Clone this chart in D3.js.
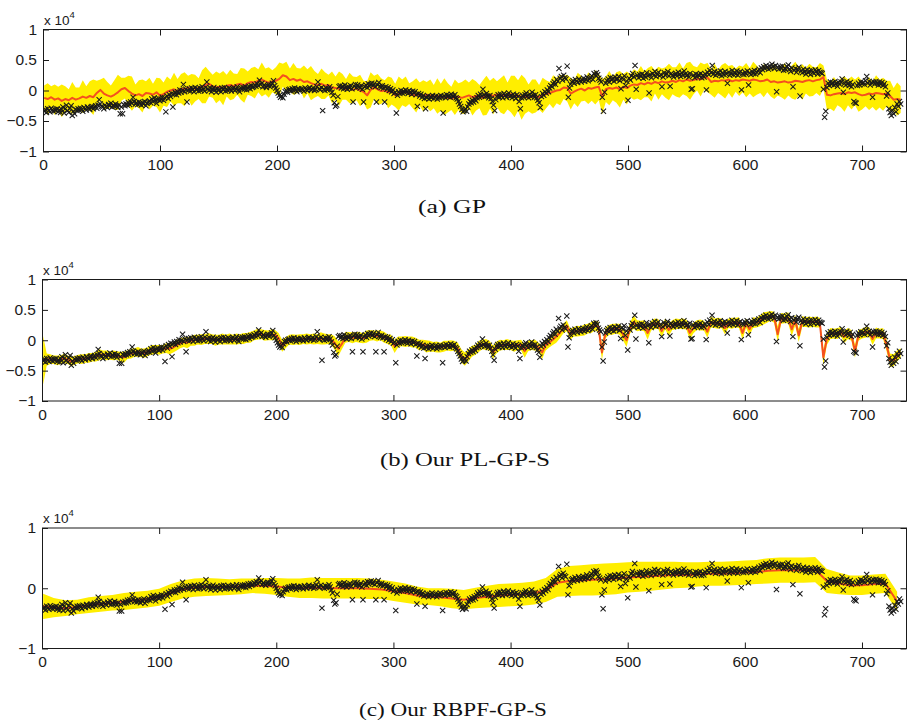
<!DOCTYPE html>
<html>
<head>
<meta charset="utf-8">
<script src="https://cdn.jsdelivr.net/npm/d3@7"></script>
<style>
body { margin: 0; background: #fff; }
svg { display: block; }
</style>
</head>
<body>
<svg id="fig" width="908" height="722"></svg>
<script>
// data (values in units of 1e4, as on the axes)

// observed values, one per day from day 1
let obs = [
    -.34,-.31,-.36,-.30,-.33,-.35,-.29,-.32,-.34,-.31,
    -.33,-.30,-.35,-.32,-.36,-.31,-.27,-.37,-.30,-.24,
    -.33,-.36,-.29,-.25,-.41,-.34,-.38,-.31,-.33,-.30,
    -.32,-.29,-.31,-.34,-.28,-.30,-.32,-.27,-.29,-.31,
    -.28,-.26,-.30,-.27,-.25,-.29,-.24,-.15,-.22,-.26,
    -.27,-.30,-.24,-.26,-.28,-.23,-.25,-.21,-.27,-.24,
    -.26,-.22,-.25,-.28,-.24,-.38,-.27,-.38,-.23,-.25,
    -.22,-.24,-.20,-.23,-.19,-.21,-.11,-.18,-.22,-.20,
    -.23,-.19,-.21,-.24,-.20,-.22,-.18,-.25,-.21,-.19,
    -.17,-.20,-.14,-.18,-.12,-.16,-.21,-.15,-.13,-.17,
    -.14,-.11,-.16,-.12,-.35,-.09,-.13,-.07,-.10,-.05,
    -.27,-.06,-.03,-.07,-.02,-.04,.01,-.03,.00,.10,
    -.02,.02,-.19,.00,.03,-.01,.04,.02,-.02,.05,
    .01,.03,-.01,.04,.00,.06,.02,-.01,.05,.14,
    .03,.00,.04,-.02,.02,.05,.01,-.03,.03,.00,
    .02,-.02,.04,.01,.05,-.01,.03,.00,.04,.02,
    -.01,.03,.05,.00,.02,.06,.01,-.02,.04,.03,
    .05,.02,.06,.01,.04,.07,.03,.08,.05,.06,
    .09,.07,.11,.08,.17,.10,.12,.06,.09,.07,
    .05,.08,.10,.06,.09,.12,.16,.08,.04,.00,
    -.04,-.08,-.11,-.09,-.12,-.06,-.02,.00,-.03,.01,
    .02,-.01,.03,.00,.04,.01,-.02,.03,.02,.00,
    .03,.01,-.01,.04,.02,.00,.03,.05,.01,.02,
    .04,.00,.02,.06,.14,.03,.01,.05,-.33,.02,
    .00,.04,.01,.03,.06,.02,-.03,-.08,-.20,-.26,
    -.24,-.10,.06,.08,.04,.07,.03,.09,.05,.02,
    .06,.04,.08,.03,-.19,.07,.10,.05,.09,.06,
    .04,.08,.02,-.19,.06,.09,.05,.11,.07,.10,
    .12,.08,.11,.06,-.19,.09,.13,.07,.05,.08,
    .04,-.19,.06,.02,.05,.00,.03,-.02,.01,-.05,
    -.03,-.37,-.08,-.02,-.05,.00,-.04,-.01,-.03,.01,
    -.02,-.05,.00,-.03,-.06,-.01,-.04,-.02,-.07,-.26,
    -.05,-.09,-.06,-.11,-.08,-.13,-.30,-.12,-.09,-.14,
    -.10,-.12,-.08,-.13,-.11,-.09,-.14,-.10,-.12,-.08,
    -.11,-.37,-.09,-.12,-.07,-.10,-.08,-.11,-.06,-.09,
    -.10,-.07,-.12,-.14,-.18,-.22,-.26,-.31,-.35,-.33,
    -.30,-.34,-.27,-.22,-.18,-.20,-.16,-.19,-.14,-.17,
    -.12,-.08,-.11,-.06,-.09,.02,-.07,-.10,-.05,-.09,
    -.12,-.08,-.13,-.18,-.24,-.33,-.15,-.10,-.07,-.11,
    -.06,-.09,-.12,-.05,-.08,-.11,-.07,-.04,-.10,-.08,
    -.12,-.06,-.09,-.13,-.07,-.10,-.18,-.30,-.12,-.08,
    -.11,-.07,-.04,-.09,-.12,-.06,-.10,-.03,-.08,-.11,
    -.07,-.12,-.16,-.20,-.28,-.10,-.05,-.08,-.02,-.04,
    .01,-.02,.04,.08,.06,.11,.14,.10,.18,.15,
    .36,.20,.23,.17,.25,.21,.19,.40,-.11,.04,
    .10,.14,.16,.12,.18,.15,.13,.19,.16,.14,
    .17,.20,.15,.18,.22,.16,.19,.21,.24,.18,
    .28,.25,.29,.26,.20,.17,.14,-.11,-.34,-.03,
    .12,.16,.19,.14,.21,.17,.20,.15,.22,.18,
    .19,.23,.16,.03,.21,.18,.24,.08,.15,-.16,
    .20,.17,.24,.28,.22,.41,.02,.25,.21,.26,
    .23,.27,.20,.25,.22,.29,.24,-.04,.26,.21,
    .28,.25,.31,.23,.27,.30,.24,.26,.06,.22,
    .29,.25,.27,.31,.24,.07,.28,.25,.22,.26,
    .28,.24,.30,.26,.23,.29,.25,.32,.27,.24,
    .26,.22,.28,.02,.03,.25,.21,.27,.23,.26,
    .24,.28,.21,.25,.22,.27,.01,.30,.26,.33,
    .29,.41,.27,.31,.25,.28,.30,.26,.32,.24,
    .29,.26,.31,.27,.12,.30,.25,.28,.33,.26,
    .30,.27,.32,.25,.29,.31,.01,.28,.26,.30,
    .27,.32,.09,.29,.26,.31,.28,.33,.27,.30,
    .32,.35,.29,.37,.34,.39,.36,.41,.38,.35,
    .40,.37,.43,.39,.36,.41,-.02,.38,.35,.39,
    .36,.40,.33,.37,.34,.39,.42,.35,.31,.37,
    .06,.33,.36,.30,.34,.38,-.09,.32,.29,.35,
    .31,.27,.34,.29,.32,.26,.33,.30,.28,.34,
    .31,.27,.33,.30,.29,.28,.02,-.44,-.34,.05,
    .12,.08,.14,.10,.13,.09,.15,.11,.07,.13,
    .10,.14,.19,-.03,.12,.09,.15,.11,.08,.13,
    .06,.10,-.18,-.20,-.21,.08,.12,.09,.14,.11,
    .13,.10,.16,.23,.12,.15,.09,.13,-.11,.14,
    .11,.15,.12,.09,.14,.10,.13,.08,.11,.06,
    -.09,-.04,-.30,-.36,-.41,-.33,-.38,-.28,-.35,-.22,
    -.26,-.18,-.22,
];

// GP: predictive mean and std, every 3rd day from day 1
let gpMean = [
    -.12,-.14,-.11,-.15,-.13,-.17,-.14,-.16,-.12,-.15,
    -.13,-.10,-.12,-.09,-.11,-.04,.01,-.05,-.08,-.10,
    -.07,-.03,.02,.04,-.01,-.05,-.08,-.06,-.09,-.04,
    -.05,-.07,-.03,-.08,-.06,-.02,.00,.02,-.01,.03,
    .02,.05,.01,.04,.03,.06,.09,.11,.07,.05,
    .06,.04,.08,.09,.07,.10,.11,.08,.12,.14,
    .13,.16,.18,.15,.13,.15,.16,.19,.25,.23,
    .17,.19,.16,.18,.14,.15,.12,.10,.09,.11,
    .08,.09,.05,.04,.03,.06,.02,.04,.01,.03,
    .00,-.02,-.08,.01,.05,.02,-.01,.00,-.03,-.01,
    -.08,-.05,-.03,-.02,-.05,-.07,-.08,-.06,-.09,-.07,
    -.08,-.10,-.09,-.11,-.10,-.12,-.13,-.11,-.10,-.12,
    -.10,-.08,-.11,-.09,-.10,-.12,-.08,-.07,-.09,-.06,
    -.08,-.07,-.09,-.06,-.10,-.08,-.11,-.09,-.12,-.10,
    -.09,-.11,-.08,-.06,-.04,-.02,.00,.01,.05,.04,
    -.05,-.02,.01,.03,.00,.04,.03,.05,.06,-.10,
    .02,.04,.03,.05,.02,.06,.04,.08,.10,.09,
    .12,.10,.13,.11,.14,.12,.15,.13,.14,.16,
    .14,.17,.15,.18,.16,.17,.19,.18,.22,.21,
    .14,.16,.15,.17,.16,.18,.15,.17,.16,.18,
    .17,.16,.18,.17,.15,.16,.18,.14,.15,.13,
    .14,.15,.13,.14,.16,.15,.14,.16,.17,.15,
    .17,.18,.22,-.07,-.08,-.06,-.05,-.04,-.06,-.03,
    -.04,-.03,-.06,-.08,-.07,-.05,-.06,-.04,-.05,-.06,
    -.05,-.09,-.15,-.14,-.15,
];
let gpSd = [
    .20,.26,.18,.25,.19,.27,.21,.18,.26,.20,
    .18,.27,.19,.24,.29,.20,.17,.26,.22,.18,
    .24,.29,.19,.17,.25,.28,.18,.23,.27,.19,
    .26,.18,.24,.28,.19,.25,.18,.27,.20,.24,
    .28,.19,.26,.22,.17,.27,.30,.21,.19,.26,
    .22,.28,.18,.25,.21,.17,.26,.28,.19,.23,
    .26,.19,.28,.21,.25,.18,.22,.27,.19,.24,
    .19,.26,.21,.18,.27,.20,.28,.22,.18,.25,
    .22,.17,.26,.19,.28,.21,.17,.25,.22,.19,
    .26,.18,.23,.29,.19,.25,.21,.17,.26,.22,
    .19,.28,.21,.25,.17,.22,.28,.19,.26,.21,
    .26,.19,.29,.22,.30,.24,.19,.29,.22,.26,
    .28,.21,.30,.24,.19,.29,.32,.23,.30,.21,
    .28,.32,.22,.30,.34,.25,.37,.29,.22,.28,
    .27,.20,.29,.23,.18,.27,.21,.25,.19,.22,
    .26,.19,.28,.21,.17,.26,.20,.28,.22,.29,
    .21,.28,.19,.25,.30,.21,.27,.19,.25,.22,
    .28,.21,.24,.29,.19,.27,.21,.25,.30,.22,
    .24,.29,.21,.27,.31,.23,.19,.28,.21,.24,
    .21,.28,.19,.25,.29,.22,.27,.19,.25,.21,
    .28,.21,.29,.24,.19,.27,.21,.24,.29,.21,
    .25,.30,.21,.27,.31,.23,.29,.21,.27,.24,
    .21,.27,.19,.25,.22,.28,.19,.24,.29,.21,
    .27,.21,.29,.23,.19,.27,.21,.29,.23,.27,
    .21,.25,.19,.27,.22,
];

// PL-GP-S: mean and std, every 3rd day from day 1
let plMean = [
    -.33,-.32,-.31,-.32,-.33,-.32,-.30,-.32,-.35,-.33,
    -.31,-.31,-.30,-.29,-.28,-.27,-.24,-.24,-.25,-.25,
    -.25,-.25,-.27,-.28,-.24,-.22,-.20,-.19,-.21,-.21,
    -.18,-.16,-.15,-.16,-.15,-.13,-.14,-.12,-.08,-.05,
    -.03,-.04,-.01,.00,.01,.01,.02,.03,.02,.00,
    .01,.02,.01,.02,.01,.02,.02,.03,.04,.05,
    .08,.10,.10,.08,.08,.09,.09,.03,-.09,-.04,
    .01,.01,.01,.01,.02,.02,.02,.02,.02,.03,
    .02,.02,.01,-.05,-.14,-.06,.05,.05,.04,.05,
    .05,.03,.06,.08,.08,.07,.08,.05,.02,.00,
    -.10,-.03,-.02,-.02,-.02,-.03,-.04,-.08,-.07,-.10,
    -.10,-.11,-.11,-.12,-.10,-.09,-.09,-.09,-.14,-.26,
    -.31,-.25,-.18,-.16,-.10,-.07,-.07,-.09,-.20,-.12,
    -.08,-.08,-.07,-.08,-.10,-.08,-.08,-.18,-.09,-.08,
    -.08,-.12,-.20,-.08,-.04,.01,.06,.12,.19,.24,
    .10,.14,.15,.15,.17,.19,.21,.24,.22,-.20,
    .12,.17,.18,.19,.18,.10,.00,.20,.30,.24,
    .24,.24,.12,.24,.27,.27,.15,.27,.17,.25,
    .27,.27,.27,.26,.12,.20,.25,.25,.24,.14,
    .30,.28,.28,.28,.20,.28,.28,.29,.29,.12,
    .28,.18,.29,.29,.32,.36,.38,.40,.38,.10,
    .36,.36,.37,.18,.33,.08,.31,.30,.30,.30,
    .30,.29,-.28,.02,.11,.11,.11,.14,.06,.11,
    .08,-.18,.08,.11,.13,.14,.02,.12,.11,.11,
    -.08,-.33,-.33,-.26,-.21,
];
let plSd = [
    .40,.10,.08,.07,.08,.07,.08,.07,.08,.07,
    .07,.08,.07,.08,.07,.08,.09,.07,.08,.07,
    .08,.07,.08,.09,.07,.08,.07,.08,.07,.08,
    .07,.08,.07,.08,.07,.08,.09,.08,.09,.08,
    .08,.09,.08,.09,.08,.09,.08,.09,.08,.09,
    .08,.09,.08,.09,.08,.09,.08,.09,.08,.09,
    .08,.09,.08,.09,.08,.09,.08,.09,.10,.09,
    .08,.09,.08,.09,.08,.09,.08,.09,.08,.10,
    .09,.08,.09,.11,.12,.09,.09,.08,.09,.08,
    .09,.08,.10,.09,.08,.09,.08,.09,.08,.09,
    .11,.09,.08,.09,.08,.09,.08,.09,.08,.10,
    .09,.08,.09,.08,.09,.08,.09,.08,.10,.11,
    .11,.10,.09,.08,.09,.08,.09,.08,.11,.10,
    .09,.08,.09,.08,.09,.08,.09,.11,.09,.08,
    .09,.08,.11,.09,.08,.09,.10,.09,.08,.09,
    .09,.08,.09,.08,.09,.08,.09,.08,.09,.13,
    .09,.08,.09,.08,.09,.10,.11,.09,.11,.09,
    .08,.09,.11,.08,.09,.08,.10,.09,.10,.08,
    .09,.08,.09,.08,.11,.09,.08,.09,.08,.10,
    .09,.08,.09,.08,.10,.08,.09,.08,.09,.11,
    .08,.10,.09,.08,.09,.10,.09,.08,.09,.13,
    .09,.08,.09,.11,.09,.11,.09,.08,.09,.08,
    .09,.08,.13,.10,.09,.08,.09,.08,.10,.09,
    .09,.11,.09,.08,.09,.08,.10,.09,.08,.09,
    .10,.11,.10,.09,.08,
];

// RBPF-GP-S: mean and std at day 1, then every 10th day
let rbpfMean = [
    -.30,-.32,-.33,-.31,-.28,-.26,-.24,-.22,-.20,-.18,-.15,
    -.08,-.02,.01,.02,.02,.02,.03,.04,.04,.03,
    .01,.00,.01,.00,.00,.00,.00,-.01,-.02,-.05,
    -.08,-.12,-.14,-.15,-.17,-.19,-.16,-.14,-.12,-.11,
    -.10,-.08,-.03,.09,.12,.13,.14,.15,.16,.18,
    .19,.20,.21,.22,.22,.23,.24,.24,.25,.26,
    .27,.29,.30,.30,.30,.31,.12,.08,.05,.05,
    .07,.08,-.22,
];
let rbpfSd = [
    .21,.16,.13,.12,.13,.13,.13,.14,.14,.14,.14,
    .15,.15,.15,.15,.14,.13,.13,.12,.13,.14,
    .15,.16,.17,.17,.17,.17,.17,.17,.16,.16,
    .16,.15,.14,.15,.16,.16,.17,.18,.19,.19,
    .19,.19,.20,.23,.25,.25,.26,.26,.26,.25,
    .25,.24,.23,.22,.21,.20,.20,.20,.20,.20,
    .20,.21,.21,.21,.21,.21,.20,.18,.16,.16,
    .16,.16,.16,
];

let xTickValues = [0, 100, 200, 300, 400, 500, 600, 700];
let yTicksFine = [-1, -0.5, 0, 0.5, 1];
let yTicksCoarse = [-1, 0, 1];
let captions = ['(a) GP', '(b) Our PL-GP-S', '(c) Our RBPF-GP-S'];

let obsDays = d3.range(1, obs.length + 1);
let fineDays = d3.range(1, 734, 3);
let coarseDays = [1].concat(d3.range(10, 731, 10));

let panels = [
    { days: fineDays, mean: gpMean, sd: gpSd, yTicks: yTicksFine, caption: captions[0] },
    { days: fineDays, mean: plMean, sd: plSd, yTicks: yTicksFine, caption: captions[1] },
    { days: coarseDays, mean: rbpfMean, sd: rbpfSd, yTicks: yTicksCoarse, caption: captions[2] },
];

// layout

let layout = [
    { left: 43, top: 29.5, bottom: 151.5, capX: 452, capY: 213, capW: 68 },
    { left: 42, top: 279.5, bottom: 401, capX: 465, capY: 466, capW: 170 },
    { left: 42, top: 528, bottom: 648.5, capX: 453, capY: 716, capW: 188 },
];
let right = 906.5;
let ink = '#1a1a1a';
let sans = '"Liberation Sans", Arial, sans-serif';

let svg = d3.select('#fig');

let fmt = (v) => v == 0 ? '0' : (v < 0 ? '\u2212' + Math.abs(v) : String(v));

panels.forEach((p, i) => {
    let L = layout[i];
    let x = d3.scaleLinear().domain([0, 738]).range([L.left, right]);
    let y = d3.scaleLinear().domain([-1, 1]).range([L.bottom, L.top]);
    let g = svg.append('g');

    g.append('clipPath')
        .attr('id', 'clip' + i)
        .append('rect')
        .attr('x', L.left)
        .attr('y', L.top)
        .attr('width', right - L.left)
        .attr('height', L.bottom - L.top);

    let plot = g.append('g').attr('clip-path', `url(#clip${i})`);

    // band
    plot.append('path')
        .datum(p.days)
        .attr('fill', '#ffee00')
        .attr('d', d3.area()
            .x((d) => x(d))
            .y0((d, k) => y(p.mean[k] - p.sd[k]))
            .y1((d, k) => y(p.mean[k] + p.sd[k])));

    // mean
    plot.append('path')
        .datum(p.days)
        .attr('fill', 'none')
        .attr('stroke', '#f5501e')
        .attr('stroke-width', 2)
        .attr('stroke-linejoin', 'round')
        .attr('d', d3.line()
            .x((d) => x(d))
            .y((d, k) => y(p.mean[k])));

    // observations
    plot.selectAll('.obs')
        .data(obs)
        .enter()
        .append('path')
        .classed('obs', 1)
        .attr('transform', (d, k) => `translate(${x(obsDays[k])},${y(d)})`)
        .attr('d', 'M-2.6,-2.6L2.6,2.6M-2.6,2.6L2.6,-2.6')
        .attr('stroke', ink)
        .attr('stroke-width', 1.05)
        .attr('fill', 'none');

    // axes, ticks inside
    let styleAxis = (a) => {
        a.select('.domain').remove();
        a.attr('font-family', sans).attr('font-size', 15.5);
        a.selectAll('line').attr('stroke', ink);
        a.selectAll('text').attr('fill', ink);
    };

    g.append('g')
        .attr('transform', `translate(0,${L.bottom})`)
        .call(d3.axisBottom(x).tickValues(xTickValues).tickSize(-6).tickPadding(7.5))
        .call(styleAxis);
    g.append('g')
        .attr('transform', `translate(0,${L.top})`)
        .call(d3.axisTop(x).tickValues(xTickValues).tickSize(-6).tickFormat(''))
        .call(styleAxis);
    g.append('g')
        .attr('transform', `translate(${L.left},0)`)
        .call(d3.axisLeft(y).tickValues(p.yTicks).tickSize(-6).tickPadding(6).tickFormat(fmt))
        .call(styleAxis);
    g.append('g')
        .attr('transform', `translate(${right},0)`)
        .call(d3.axisRight(y).tickValues(p.yTicks).tickSize(-6).tickFormat(''))
        .call(styleAxis);

    g.append('rect')
        .attr('x', L.left + 0.5)
        .attr('y', L.top)
        .attr('width', right - L.left - 0.5)
        .attr('height', L.bottom - L.top)
        .attr('fill', 'none')
        .attr('stroke', ink)
        .attr('stroke-width', 1);

    // exponent label
    let ex = g.append('text')
        .attr('x', L.left + 1)
        .attr('y', L.top - 5)
        .attr('font-family', sans)
        .attr('font-size', 13.5)
        .attr('fill', ink)
        .text('x 10');
    ex.append('tspan')
        .attr('dy', -7)
        .attr('font-size', 9.5)
        .text('4');

    // caption
    g.append('text')
        .attr('x', L.capX)
        .attr('y', L.capY)
        .attr('text-anchor', 'middle')
        .attr('font-family', '"Liberation Serif", "Times New Roman", serif')
        .attr('font-size', 18)
        .attr('fill', '#111')
        .attr('textLength', L.capW)
        .attr('lengthAdjust', 'spacingAndGlyphs')
        .text(p.caption);
});
</script>
</body>
</html>
